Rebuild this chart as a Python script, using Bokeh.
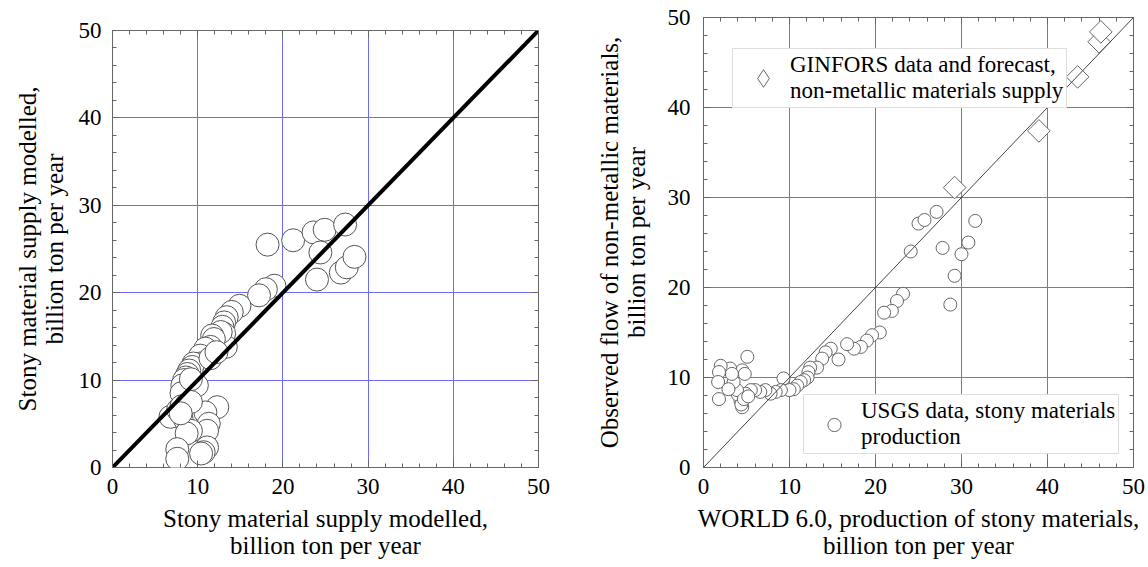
import math
from bokeh.plotting import figure
from bokeh.layouts import row
from bokeh.models import Range1d, SingleIntervalTicker, LinearAxis, Legend, LegendItem
from bokeh.embed import file_html
from bokeh.resources import INLINE

# ---- Left panel data: modelled vs modelled stony material supply ----
left_x = [18.2, 21.2, 23.6, 24.9, 27.3, 24.4, 24.0, 26.8, 27.5, 28.4,
          19.0, 18.0, 17.2, 14.9, 14.0, 13.4, 13.1, 12.9, 13.1, 13.3, 12.7, 11.7, 11.9, 11.5,
          10.9, 10.9, 10.3, 10.3, 9.5, 9.35, 9.0, 8.8, 8.6, 8.4, 8.2, 8.4, 8.1, 9.9, 9.2, 11.5, 12.2,
          7.4, 6.8, 7.7, 8.1, 8.7, 8.5, 9.0, 9.6, 10.7, 12.3, 10.9, 11.3, 11.1, 9.2, 8.7,
          11.1, 10.7, 10.4, 7.6, 7.6, 9.2, 8.0]
left_y = [25.5, 26.0, 26.9, 27.2, 27.8, 24.6, 21.5, 22.3, 22.9, 24.1,
          20.8, 20.4, 19.7, 18.5, 17.8, 17.2, 16.6, 16.1, 15.3, 13.8, 15.5, 15.1, 14.7, 13.8,
          13.6, 12.6, 12.8, 11.9, 11.9, 11.5, 11.1, 10.7, 10.3, 10.0, 9.4, 8.6, 8.5, 9.4, 10.1, 12.5, 13.2,
          5.9, 5.8, 6.6, 7.0, 7.2, 5.5, 5.2, 6.0, 6.1, 6.9, 6.3, 5.0, 4.2, 4.2, 3.9,
          2.3, 1.75, 1.6, 2.1, 1.0, 7.5, 6.2]

# ---- Right panel data ----
usgs_x = [24.1, 25.0, 25.7, 27.1, 27.8, 29.2, 28.7, 30.0, 30.8, 31.6,
          23.2, 22.5, 21.9, 21.0, 20.5, 19.6, 19.0, 18.3, 17.5, 16.7, 15.7, 14.8, 14.2, 13.8,
          13.2, 12.4, 12.2, 12.1, 11.7, 11.3, 10.9, 10.5, 10.0, 9.3, 9.0, 8.4, 7.8, 7.2, 6.6,
          6.0, 5.5, 4.9, 4.3, 4.5, 4.0, 3.9, 3.5, 4.5, 5.1, 4.8, 3.1, 3.3, 2.0, 1.8, 1.7, 1.8,
          2.9, 4.4, 4.7, 5.2]
usgs_y = [24.0, 27.1, 27.5, 28.4, 24.4, 21.3, 18.1, 23.7, 25.0, 27.4,
          19.3, 18.5, 17.4, 17.2, 15.0, 14.7, 14.1, 13.4, 13.2, 13.7, 12.0, 13.2, 12.8, 12.1,
          11.1, 11.1, 10.6, 10.0, 9.7, 9.5, 9.1, 8.7, 8.6, 9.9, 8.6, 8.4, 8.2, 8.6, 8.4,
          8.6, 8.6, 8.2, 7.4, 6.7, 8.1, 8.6, 9.5, 10.8, 12.3, 10.4, 11.0, 10.4, 11.3, 10.6, 9.5, 7.6,
          8.7, 7.0, 7.6, 7.9]
ginfors_x = [29.2, 39.0, 43.5, 46.0, 46.2]
ginfors_y = [31.1, 37.4, 43.4, 47.3, 48.4]

diag = [0, 50]
tick_values = [0, 10, 20, 30, 40, 50]

FONT = "'Liberation Serif', 'Times New Roman', serif"
GRID = "#6c6cf4"
FRAME = "#666666"


def style(p, xlabel, ylabel, ylab_standoff=8, ytick_standoff=11):
    for ax in list(p.xaxis) + list(p.yaxis):
        ax.ticker = SingleIntervalTicker(interval=10, num_minor_ticks=5)
        ax.major_tick_in = 7
        ax.major_tick_out = 0
        ax.minor_tick_in = 4
        ax.minor_tick_out = 0
        ax.axis_line_color = None
        ax.major_tick_line_color = FRAME
        ax.minor_tick_line_color = FRAME
        ax.major_label_text_font = FONT
        ax.major_label_text_font_size = "23px"
        ax.major_label_text_color = "black"
        ax.major_label_standoff = 11
        ax.axis_label_text_font = FONT
        ax.axis_label_text_font_size = "25px"
        ax.axis_label_text_font_style = "normal"
        ax.axis_label_text_color = "black"
        ax.axis_label_text_line_height = 1.0
        ax.axis_label_standoff = 8
    p.yaxis.axis_label_standoff = ylab_standoff
    p.yaxis.major_label_standoff = ytick_standoff
    p.xaxis.axis_label = xlabel
    p.yaxis.axis_label = ylabel
    for place in ("above", "right"):
        a = LinearAxis(ticker=SingleIntervalTicker(interval=10, num_minor_ticks=5))
        a.major_tick_in = 7
        a.major_tick_out = 0
        a.minor_tick_in = 4
        a.minor_tick_out = 0
        a.axis_line_color = None
        a.major_tick_line_color = FRAME
        a.minor_tick_line_color = FRAME
        a.major_label_overrides = {v: "" for v in tick_values}
        a.major_label_text_font_size = "1px"
        a.major_label_standoff = 0
        p.add_layout(a, place)
    for g in (p.xgrid, p.ygrid):
        g.ticker = SingleIntervalTicker(interval=10)
        g.grid_line_color = GRID
        g.grid_line_width = 1
    p.outline_line_color = FRAME
    p.outline_line_width = 1
    if "frame_align" in p.properties():
        p.frame_align = False


# ---- Left figure ----
p1 = figure(width=575, height=567, output_backend="svg", toolbar_location=None,
            x_range=Range1d(0, 50), y_range=Range1d(0, 50),
            frame_width=426, frame_height=437,
            min_border_left=112, min_border_top=30, min_border_bottom=100, min_border_right=37)
p1.scatter(left_x, left_y, marker="circle", size=23, fill_color="white",
           line_color="#555555", line_width=1)
p1.line(diag, diag, line_color="black", line_width=4)
style(p1, "Stony material supply modelled,\nbillion ton per year",
      "Stony material supply modelled,\nbillion ton per year")

# ---- Right figure ----
p2 = figure(width=573, height=567, output_backend="svg", toolbar_location=None,
            x_range=Range1d(0, 50), y_range=Range1d(0, 50),
            frame_width=430, frame_height=450,
            min_border_left=128, min_border_top=17, min_border_bottom=100, min_border_right=15)
r_usgs = p2.scatter(usgs_x, usgs_y, marker="circle", size=13, fill_color="white",
                    line_color="#666666", line_width=1)
r_gin = p2.scatter(ginfors_x, ginfors_y, marker="square", angle=math.pi / 4, size=16,
                   fill_color="white", line_color="#666666", line_width=1)
# legend symbol (legends do not rotate markers)
r_gin_leg = p2.scatter(ginfors_x, ginfors_y, marker="diamond", size=16,
                       fill_color="white", line_color="#666666", line_width=1, visible=False)
p2.line(diag, diag, line_color="#444444", line_width=1)
style(p2, "WORLD 6.0, production of stony materials,\nbillion ton per year",
      "Observed flow of non-metallic materials,\nbillion ton per year",
      ylab_standoff=15, ytick_standoff=13)

leg_top = Legend(items=[LegendItem(label="GINFORS data and forecast,\nnon-metallic materials supply",
                                   renderers=[r_gin_leg])],
                 location=(29, 359))
leg_bot = Legend(items=[LegendItem(label="USGS data, stony materials\nproduction",
                                   renderers=[r_usgs])],
                 location=(100, 13))
for lg, gh in ((leg_top, 44), (leg_bot, 33)):
    lg.label_text_font = FONT
    lg.label_text_font_size = "23px"
    lg.label_text_color = "black"
    lg.label_text_line_height = 0.95
    lg.padding = 3
    lg.margin = 0
    lg.glyph_width = 54
    lg.glyph_height = gh
    lg.label_standoff = 0
    lg.border_line_color = "#bbbbbb"
    lg.border_line_width = 1
    lg.background_fill_color = "white"
    lg.background_fill_alpha = 1.0
    lg.inactive_fill_alpha = 0.0
    p2.add_layout(lg, "center")

layout = row(p1, p2)
open("out.html", "w").write(file_html(layout, INLINE))
